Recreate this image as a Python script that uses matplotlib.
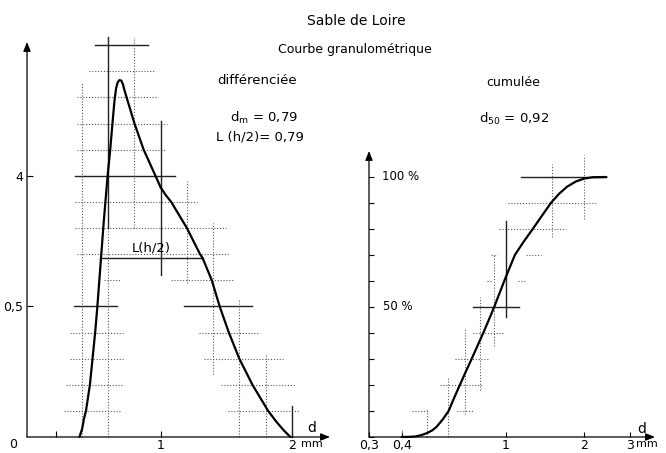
import matplotlib
matplotlib.use("Agg")
import matplotlib.pyplot as plt
from matplotlib.ticker import NullLocator, FixedLocator, FixedFormatter

plt.rcParams['font.family'] = ['DejaVu Sans']

# ---------------- data ----------------
# differential curve (d in mm, relative height)
diff_d = [0.38, 0.40, 0.415, 0.43, 0.445, 0.46, 0.47, 0.48, 0.49, 0.50, 0.517, 0.535, 0.55,
          0.565, 0.58, 0.595, 0.615, 0.632, 0.648, 0.66, 0.672, 0.685, 0.70, 0.712, 0.725,
          0.74, 0.77, 0.80, 0.835, 0.87, 0.915, 0.96, 1.00, 1.04, 1.08, 1.14, 1.20, 1.25,
          1.30, 1.32, 1.39, 1.45, 1.52, 1.60, 1.70, 1.76, 1.82, 1.88, 1.94, 1.99]
diff_h = [0.0, 0.03, 0.07, 0.10, 0.15, 0.20, 0.25, 0.30, 0.35, 0.40, 0.50, 0.62, 0.72,
          0.82, 0.91, 1.00, 1.10, 1.20, 1.29, 1.335, 1.358, 1.366, 1.364, 1.35, 1.325,
          1.30, 1.25, 1.20, 1.15, 1.10, 1.05, 1.00, 0.955, 0.925, 0.90, 0.85, 0.80, 0.75,
          0.70, 0.685, 0.60, 0.50, 0.40, 0.30, 0.20, 0.15, 0.10, 0.06, 0.025, 0.0]

# cumulative curve (d in mm, %)
cum_d = [0.40, 0.43, 0.45, 0.475, 0.50, 0.525, 0.545, 0.575, 0.605, 0.635, 0.668, 0.703,
         0.741, 0.78, 0.821, 0.862, 0.904, 0.945, 0.988, 1.035, 1.085, 1.17, 1.27, 1.375,
         1.49, 1.60, 1.72, 1.86, 2.00, 2.15, 2.43]
cum_p = [0.0, 0.05, 0.2, 0.7, 1.5, 2.6, 4.0, 6.8, 10, 15, 20, 25, 30, 35, 40, 45, 50, 55,
         60, 65, 70, 75, 80, 85, 90, 93.5, 96.3, 98.3, 99.4, 99.9, 100]

# construction crosses of the differential plot: (level, from, to)
left_h_dotted = [(1.4, 0.45, 0.95), (1.3, 0.36, 0.975), (1.2, 0.36, 1.05), (1.1, 0.36, 1.03),
                 (0.9, 0.35, 1.28), (0.8, 0.35, 1.50), (0.7, 0.36, 1.52), (0.6, 0.57, 0.70),
                 (0.6, 1.08, 1.56), (0.4, 0.31, 0.72), (0.4, 1.29, 1.76), (0.3, 0.31, 0.73),
                 (0.3, 1.33, 1.93), (0.2, 0.28, 0.72), (0.2, 1.46, 2.03), (0.1, 0.26, 0.70),
                 (0.1, 1.51, 2.06)]
left_h_solid = [(1.5, 0.50, 0.90), (1.0, 0.35, 1.11), (0.5, 0.34, 0.67), (0.5, 1.18, 1.70)]
left_v_dotted = [(0.4, 0.0, 1.36), (0.6, 0.0, 0.8), (0.8, 0.8, 1.53), (1.2, 0.59, 0.98),
                 (1.4, 0.24, 0.82), (1.6, 0.0, 0.53), (1.8, 0.0, 0.32)]
left_v_solid = [(0.6, 0.8, 1.53), (1.0, 0.62, 1.21), (2.0, 0.0, 0.12)]
half_width = (0.685, 0.54, 1.32)

# construction crosses of the cumulative plot
right_h_dotted = [(90, 1.02, 2.23), (80, 0.94, 1.71), (70, 0.88, 0.93), (70, 1.20, 1.37),
                  (60, 0.85, 0.88), (60, 1.12, 1.20), (40, 0.75, 0.98), (30, 0.64, 0.86),
                  (20, 0.56, 0.82), (10, 0.44, 0.51), (10, 0.65, 0.75)]
right_h_solid = [(100, 1.15, 2.43), (50, 0.75, 1.13)]
right_v_dotted = [(0.4, 0, 3), (0.5, 0, 11), (0.6, 0, 23), (0.7, 9, 42), (0.8, 18, 54),
                  (0.9, 35, 70), (1.5, 77, 105), (2.0, 84, 108.5)]
right_v_solid = [(1.0, 46, 83)]

left_xticks = [0.2, 1, 2]
left_xlabels = ['', '1', '2']
left_yticks = [0.5, 1.0]
left_ylabels = ['0,5', '4']
right_xticks = [0.3, 0.4, 1, 2, 3]
right_xlabels = ['0,3', '0,4', '1', '2', '3']
right_yticks = [0, 10, 20, 30, 40, 50, 60, 70, 80, 90, 100]

# ---------------- figure ----------------
W, H = 666, 453
fig = plt.figure(figsize=(W / 100, H / 100), dpi=100)
fig.patch.set_facecolor('white')

def fx(px):
    return px / W

def fy(py):
    return 1 - py / H

DOT = dict(color='#5a5a5a', lw=0.8, ls=(0, (1, 1.6)), clip_on=False)
SOL = dict(color='#222222', lw=1.0, clip_on=False)
CURVE = dict(color='black', lw=1.6, solid_capstyle='round', solid_joinstyle='round', clip_on=False)

def draw_crosses(ax, hd, hs, vd, vs):
    for y, a, b in hd:
        ax.plot([a, b], [y, y], **DOT)
    for y, a, b in hs:
        ax.plot([a, b], [y, y], **SOL)
    for x, a, b in vd:
        ax.plot([x, x], [a, b], **DOT)
    for x, a, b in vs:
        ax.plot([x, x], [a, b], **SOL)

def arrows(ax):
    ap = dict(arrowstyle='-|>,head_length=0.55,head_width=0.22', lw=0.9, color='black',
              shrinkA=0, shrinkB=0)
    ax.annotate('', xy=(1, 0), xytext=(0, 0), xycoords='axes fraction', arrowprops=ap)
    ax.annotate('', xy=(0, 1), xytext=(0, 0), xycoords='axes fraction', arrowprops=ap)
    for s in ax.spines.values():
        s.set_visible(False)

# ---- left: differential ----
axL = fig.add_axes([fx(27), fy(437), fx(330) - fx(27), fy(42) - fy(437)])
axL.set_xlim(-0.02, 2.292)
axL.set_ylim(0, 1.512)
axL.patch.set_alpha(0)
draw_crosses(axL, left_h_dotted, left_h_solid, left_v_dotted, left_v_solid)
axL.plot([half_width[1], half_width[2]], [half_width[0]] * 2, **SOL)
axL.plot(diff_d, diff_h, **CURVE)
arrows(axL)
axL.set_xticks(left_xticks)
axL.set_xticklabels(left_xlabels)
axL.set_yticks(left_yticks)
axL.set_yticklabels(left_ylabels)
axL.tick_params(axis='both', direction='in', length=4, width=0.8, labelsize=9, pad=1.5)
axL.tick_params(axis='y', pad=3)
axL.text(0.93, 0.70, 'L(h/2)', fontsize=9.5, ha='center', va='bottom')
axL.annotate('mm', xy=(2, 0), xytext=(9, -7), textcoords='offset pixels',
             fontsize=8, ha='left', va='center')
axL.annotate('d', xy=(1, 0), xycoords='axes fraction', xytext=(-18, 9),
             textcoords='offset pixels', fontsize=10, ha='center', va='center')
axL.annotate('0', xy=(0, 0), xycoords='axes fraction', xytext=(-14, -7),
             textcoords='offset pixels', fontsize=9, ha='center', va='center')

# ---- right: cumulative (log d) ----
axR = fig.add_axes([fx(369), fy(437), fx(655) - fx(369), fy(151) - fy(437)])
axR.set_xscale('log')
axR.set_xlim(0.3, 3.73)
axR.set_ylim(0, 110)
axR.patch.set_alpha(0)
draw_crosses(axR, right_h_dotted, right_h_solid, right_v_dotted, right_v_solid)
axR.plot(cum_d, cum_p, **CURVE)
arrows(axR)
axR.xaxis.set_major_locator(FixedLocator(right_xticks))
axR.xaxis.set_major_formatter(FixedFormatter(right_xlabels))
axR.xaxis.set_minor_locator(NullLocator())
axR.set_yticks(right_yticks)
axR.set_yticklabels([''] * len(right_yticks))
axR.tick_params(axis='both', direction='in', length=3.5, width=0.8, labelsize=9, pad=1.5)
axR.annotate('100 %', xy=(0, 100), xycoords=('axes fraction', 'data'), xytext=(13, 0),
             textcoords='offset pixels', fontsize=8.5, va='center', ha='left')
axR.annotate('50 %', xy=(0, 50), xycoords=('axes fraction', 'data'), xytext=(14, 0),
             textcoords='offset pixels', fontsize=8.5, va='center', ha='left')
axR.annotate('mm', xy=(3, 0), xytext=(6, -7), textcoords='offset pixels',
             fontsize=8, ha='left', va='center')
axR.annotate('d', xy=(1, 0), xycoords='axes fraction', xytext=(-13, 8),
             textcoords='offset pixels', fontsize=10, ha='center', va='center')

# ---- titles ----
fig.text(fx(356), fy(21), 'Sable de Loire', fontsize=10, ha='center', va='center')
fig.text(fx(355), fy(50), 'Courbe granulométrique', fontsize=9, ha='center', va='center')
fig.text(fx(257), fy(81), 'différenciée', fontsize=9.5, ha='center', va='center')
fig.text(fx(264), fy(118), r'$\mathregular{d_m}$ = 0,79', fontsize=9.5, ha='center', va='center')
fig.text(fx(260), fy(137), 'L (h/2)= 0,79', fontsize=9.5, ha='center', va='center')
fig.text(fx(513), fy(82), 'cumulée', fontsize=9, ha='center', va='center')
fig.text(fx(514), fy(119), r'$\mathregular{d_{50}}$ = 0,92', fontsize=9.5, ha='center', va='center')

fig.savefig('out.png', dpi=100)
